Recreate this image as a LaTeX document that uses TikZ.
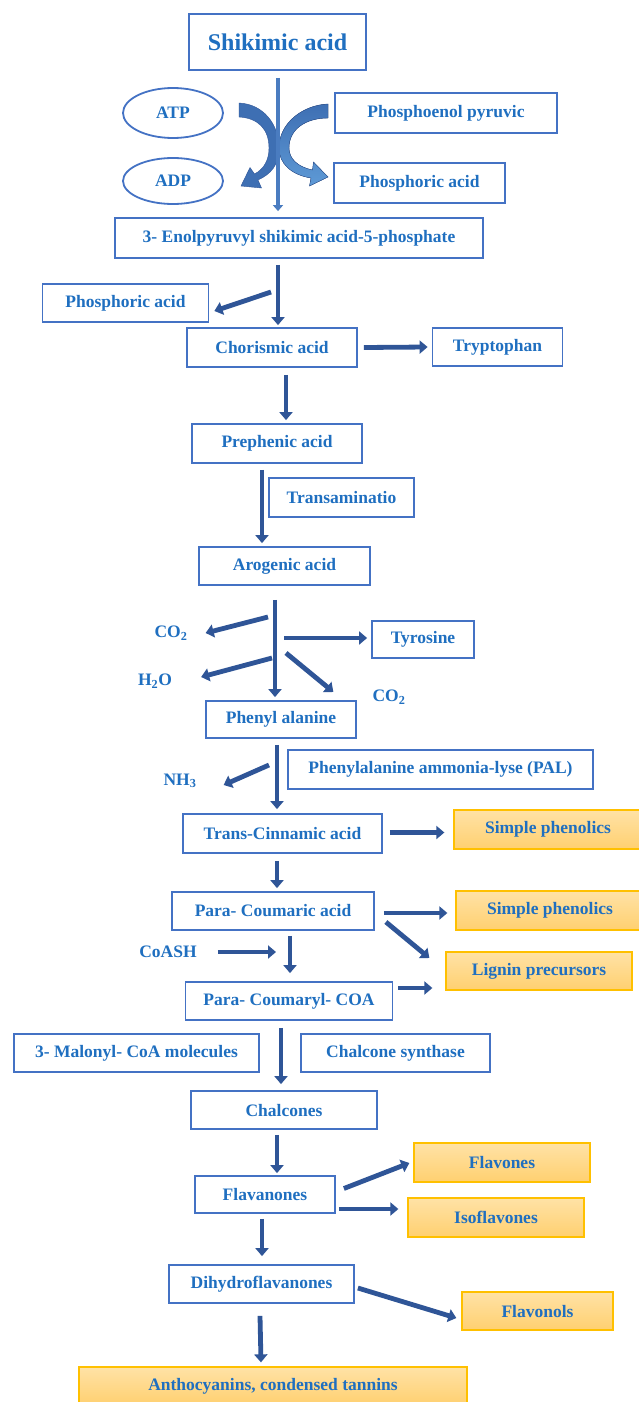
\documentclass[tikz,border=0pt]{standalone}
\usepackage{fontspec}
\setmainfont{Liberation Serif}
\usetikzlibrary{arrows.meta,calc,shapes.geometric}
\definecolor{txt}{HTML}{1F6FC0}
\definecolor{bord}{HTML}{4472C4}
\definecolor{arr}{HTML}{2F5597}
\definecolor{arrA}{HTML}{3E6FB3}
\definecolor{arrB}{HTML}{5E9AD6}
\definecolor{arrV}{HTML}{4A7CC0}
\definecolor{orb}{HTML}{FFC000}
\definecolor{orT}{HTML}{FFE2A6}
\definecolor{orB}{HTML}{FFD070}
\tikzset{
  fnt/.style={font=\bfseries\fontsize{17.5}{19}\selectfont, text=txt},
  box/.style={fnt, draw=bord, line width=1.8pt, fill=white, inner sep=0pt},
  obox/.style={fnt, draw=orb, line width=1.3pt, top color=orT, bottom color=orB, inner sep=0pt},
  ell/.style={fnt, ellipse, draw=bord, line width=1.8pt, inner sep=0pt},
  lbl/.style={fnt, inner sep=0pt},
  blk/.style={draw=arr, line width=4.8pt, -{Triangle[length=8pt,width=13pt]}},
}
\begin{document}
\begin{tikzpicture}[x=1pt,y=-1pt]
\useasboundingbox (0,0) rectangle (638,1402);
\fill[white] (0,0) rectangle (638,1402);

% nodes
\node[box, minimum width=177, minimum height=56, font=\bfseries\fontsize{24}{27}\selectfont] (shik) at (277.5,42) {Shikimic acid};
\node[ell, minimum width=100, minimum height=50] (atp) at (173,113) {ATP};
\node[ell, minimum width=100, minimum height=46] (adp) at (173,181) {ADP};
\node[box, minimum width=222, minimum height=40] (pep) at (446,113) {Phosphoenol pyruvic};
\node[box, minimum width=171, minimum height=40] (pa1) at (419.5,183) {Phosphoric acid};
\node[box, minimum width=368, minimum height=40] (enol) at (299,238) {3- Enolpyruvyl shikimic acid-5-phosphate};
\node[box, minimum width=166, minimum height=38] (pa2) at (125.5,303) {Phosphoric acid};
\node[box, minimum width=170, minimum height=39] (chor) at (272,347.5) {Chorismic acid};
\node[box, minimum width=130, minimum height=38] (tryp) at (497.5,347) {Tryptophan};
\node[box, minimum width=170, minimum height=39] (preph) at (277,443.5) {Prephenic acid};
\node[box, minimum width=145, minimum height=39] (transam) at (341.5,497.5) {Transaminatio};
\node[box, minimum width=171, minimum height=38] (arog) at (284.5,566) {Arogenic acid};
\node[box, minimum width=102, minimum height=37] (tyr) at (423,639.5) {Tyrosine};
\node[box, minimum width=150, minimum height=37] (phe) at (281,719.5) {Phenyl alanine};
\node[box, minimum width=305, minimum height=39] (pal) at (440.5,769.5) {Phenylalanine ammonia-lyse (PAL)};
\node[box, minimum width=199, minimum height=39] (cinn) at (282.5,833.5) {Trans-Cinnamic acid};
\node[obox, minimum width=188, minimum height=39] (sp1) at (548,829.5) {Simple phenolics};
\node[box, minimum width=202, minimum height=38] (pcou) at (273,911) {Para- Coumaric acid};
\node[obox, minimum width=188, minimum height=39] (sp2) at (550,910.5) {Simple phenolics};
\node[obox, minimum width=186, minimum height=38] (lign) at (539,971) {Lignin precursors};
\node[box, minimum width=207, minimum height=38] (pcoa) at (289,1001) {Para- Coumaryl- COA};
\node[box, minimum width=245, minimum height=38] (mal) at (136.5,1053) {3- Malonyl- CoA molecules};
\node[box, minimum width=189, minimum height=38] (chs) at (395.5,1053) {Chalcone synthase};
\node[box, minimum width=186, minimum height=38] (chal) at (284,1110) {Chalcones};
\node[obox, minimum width=176, minimum height=39] (flavo) at (502,1162.5) {Flavones};
\node[box, minimum width=140, minimum height=37] (flavan) at (265,1194.5) {Flavanones};
\node[obox, minimum width=176, minimum height=39] (iso) at (496,1217.5) {Isoflavones};
\node[box, minimum width=185, minimum height=38] (dihy) at (261.5,1284) {Dihydroflavanones};
\node[obox, minimum width=151, minimum height=38] (flavol) at (537.5,1311) {Flavonols};
\node[obox, minimum width=388, minimum height=38] (antho) at (273,1386) {Anthocyanins, condensed tannins};

\node[lbl] (co2a) at (171,633) {CO\textsubscript{2}};
\node[lbl] (h2o) at (155,681) {H\textsubscript{2}O};
\node[lbl] (co2b) at (389,697) {CO\textsubscript{2}};
\node[lbl] (nh3) at (180,781) {NH\textsubscript{3}};
\node[lbl] (coash) at (168,952) {CoASH};

% top reaction: crescent arrows
\fill[arrA, draw=arr, line width=0.4pt]
  (239,103) .. controls (263,104) and (279,124) .. (279,148)
  .. controls (279,165) and (271,174) .. (258,180)
  -- (261.5,188) -- (241,186) -- (250,167.5) -- (254.5,174)
  .. controls (264,169) and (269,160) .. (269,148)
  .. controls (269,129) and (258,118) .. (239,117) -- cycle;
\fill[top color=arrA, bottom color=arrB, draw=arr, line width=0.4pt]
  (328,104) .. controls (303,105) and (279,123) .. (279,148)
  .. controls (279,164) and (292,175) .. (311,178)
  -- (309.5,186) -- (328,177) -- (313.5,162) -- (312.5,170)
  .. controls (298,167) and (289,159) .. (289,148)
  .. controls (289,129) and (306,118) .. (328,118) -- cycle;
\draw[draw=arrV, line width=3.5pt, -{Triangle[length=6pt,width=10pt]}]
  ($(278,0 |- shik.south)+(0,7)$) -- ($(278,0 |- enol.north)+(0,-6)$);

% main chain arrows
\draw[blk] ($(278,0 |- enol.south)+(0,6)$) -- ($(278,0 |- chor.north)+(0,-2)$);
\draw[blk] (271,292) -- ($(pa2.east)+(5,8)$);
\draw[blk] ($(chor.east)+(6,0)$) -- ($(tryp.west)+(-4,0)$);
\draw[blk] ($(286,0 |- chor.south)+(0,7)$) -- ($(286,0 |- preph.north)+(0,-3)$);
\draw[blk] ($(262,0 |- preph.south)+(0,6)$) -- ($(262,0 |- arog.north)+(0,-3)$);
\draw[blk] ($(275,0 |- arog.south)+(0,14)$) -- ($(275,0 |- phe.north)+(0,-3)$);
\draw[blk] (268,617) -- ($(co2a.east)+(18,0)$);
\draw[blk] (284,638) -- ($(tyr.west)+(-4,-1.5)$);
\draw[blk] (272,658) -- ($(h2o.east)+(29,-4)$);
\draw[blk] (286,653) -- ($(co2b.west)+(-39,-5)$);
\draw[blk] ($(277,0 |- phe.south)+(0,6)$) -- ($(277,0 |- cinn.north)+(0,-4)$);
\draw[blk] (269,765) -- ($(nh3.east)+(27,4)$);
\draw[blk] ($(cinn.east)+(7,-1)$) -- ($(sp1.west)+(-9,3)$);
\draw[blk] ($(277,0 |- cinn.south)+(0,7)$) -- ($(277,0 |- pcou.north)+(0,-3)$);
\draw[blk] ($(pcou.east)+(9,2)$) -- ($(sp2.west)+(-8,2.5)$);
\draw[blk] ($(pcou.east)+(11,11)$) -- ($(lign.west)+(-16,-13)$);
\draw[blk] ($(coash.east)+(21,0)$) -- ($(276,0 |- coash.east)$);
\draw[blk] ($(290,0 |- pcou.south)+(0,5)$) -- ($(290,0 |- pcoa.north)+(0,-8)$);
\draw[blk] ($(pcoa.east)+(5,-13)$) -- ($(lign.west)+(-13,17)$);
\draw[blk] ($(281,0 |- pcoa.south)+(0,7)$) -- ($(281,0 |- chal.north)+(0,-6)$);
\draw[blk] ($(277,0 |- chal.south)+(0,5)$) -- ($(277,0 |- flavan.north)+(0,-2)$);
\draw[blk] ($(flavan.east)+(8,-6)$) -- ($(flavo.west)+(-4,0.5)$);
\draw[blk] ($(flavan.east)+(3,14.5)$) -- ($(iso.west)+(-9,-8.5)$);
\draw[blk] ($(262,0 |- flavan.south)+(0,5)$) -- ($(262,0 |- dihy.north)+(0,-8)$);
\draw[blk] ($(dihy.east)+(3,4)$) -- ($(flavol.west)+(-5,7)$);
\draw[blk] ($(260,0 |- dihy.south)+(0,12)$) -- ($(261,0 |- antho.north)+(0,-4)$);
\end{tikzpicture}
\end{document}
